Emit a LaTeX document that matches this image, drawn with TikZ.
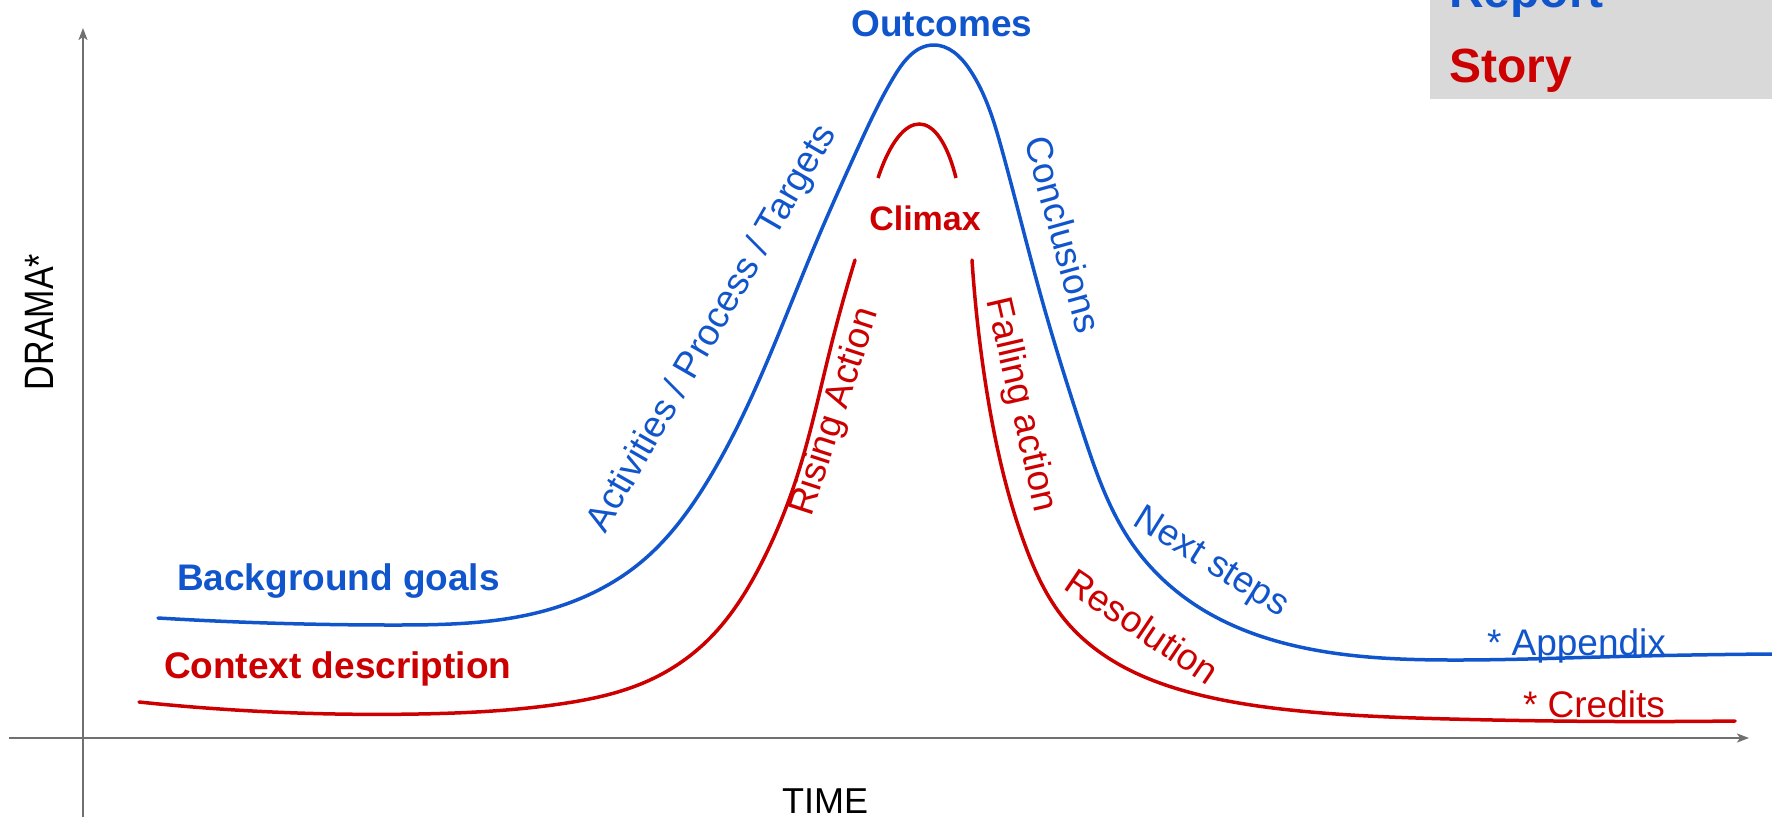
\documentclass[tikz,border=0pt]{standalone}
\usepackage{fontspec}
\setmainfont{Liberation Sans}
\newfontfamily\condfont[FakeStretch=0.83]{Liberation Sans}
\usetikzlibrary{arrows.meta,hobby}
\definecolor{rblue}{HTML}{1155CC}
\definecolor{rred}{HTML}{CC0000}
\definecolor{axisgray}{HTML}{707070}
\definecolor{legendgray}{HTML}{D9D9D9}
\begin{document}
\begin{tikzpicture}[x=1pt,y=-1pt,
  every node/.style={inner sep=0pt, outer sep=0pt},
  lab/.style={font=\fontsize{37}{44}\selectfont},
  blab/.style={font=\fontsize{37}{44}\selectfont\bfseries},
  axisline/.style={draw=axisgray, line width=2pt, -{Stealth[length=12pt,width=9pt,inset=3pt]}},
  curve/.style={line width=3.5pt, line cap=round, line join=round, use Hobby shortcut},
]
\useasboundingbox (0,0) rectangle (1772,817);
% legend
\fill[legendgray] (1430,0) rectangle (1772,99);
\node[font=\fontsize{48}{56}\selectfont\bfseries, text=rblue, anchor=base west] (report) at (1449,7) {Report};
\node[font=\fontsize{48}{56}\selectfont\bfseries, text=rred, anchor=base west] (story) at (1449,82) {Story};
% axes
\coordinate (xs) at (9,738);
\coordinate (xe) at (1749,738);
\coordinate (ys) at (83,817);
\coordinate (ye) at (83,28);
\draw[axisline] (xs) -- (xe);
\draw[axisline] (ys) -- (ye);
\node[font=\fontsize{36}{42}\selectfont, anchor=base] (time) at (825,813) {TIME};
\node[font=\fontsize{41}{48}\condfont, anchor=base, rotate=90] (drama) at (53,322) {DRAMA*};
% blue curve
\draw[curve, rblue] (158,618) .. (396,625) .. (540,612) .. (640,563) .. (710,477) .. (772,350) .. (815,245) .. (857,150) .. (895,75) .. (933,45) .. (970,70) .. (1002,150) .. (1042,300) .. (1083,433) .. (1133,545) .. (1200,608) .. (1300,647) .. (1450,660) .. (1600,657) .. (1772,654);
% red curve left
\draw[curve, rred] (139,702) .. (418,714) .. (560,704) .. (650,680) .. (710,638) .. (760,566) .. (800,467) .. (830,350) .. (855,260);
% red curve right
\draw[curve, rred] (972,260) .. (985,380) .. (1000,460) .. (1025,545) .. (1065,620) .. (1120,665) .. (1200,695) .. (1300,711) .. (1450,719) .. (1735,721);
% climax arc
\draw[line width=3.5pt, rred] (878,178) .. controls (902,106) and (938,106) .. (956,178);
% labels
\node[blab, text=rblue, anchor=base] (outcomes) at (942,36) {Outcomes};
\node[font=\fontsize{34}{40}\selectfont\bfseries, text=rred, anchor=base] (climax) at (925,230) {Climax};
\node[blab, text=rblue, anchor=base west] (bg) at (177,590) {Background goals};
\node[blab, text=rred, anchor=base west] (ctx) at (164,678) {Context description};
\node[lab, text=rblue, anchor=base west] (app) at (1487,655) {* Appendix};
\node[lab, text=rred, anchor=base west] (cred) at (1523,717) {* Credits};
\node[lab, text=rblue, anchor=base, rotate=60] (act) at (721,334) {Activities / Process / Targets};
\node[lab, text=rred, anchor=base, rotate=72] (rise) at (845,415) {Rising Action};
\node[lab, text=rblue, anchor=base, rotate=-74.5] (conc) at (1051,238) {Conclusions};
\node[lab, text=rred, anchor=base, rotate=-77] (fall) at (1011,407) {Falling action};
\node[lab, text=rblue, anchor=base, rotate=-32] (next) at (1206,571) {Next steps};
\node[lab, text=rred, anchor=base, rotate=-34] (res) at (1135,637) {Resolution};
\end{tikzpicture}
\end{document}
